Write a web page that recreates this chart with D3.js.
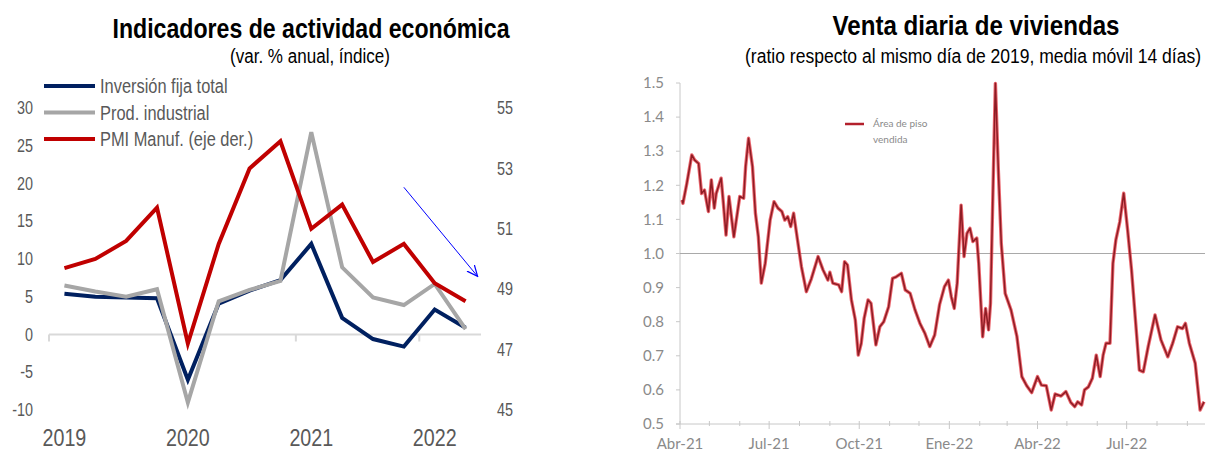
<!DOCTYPE html>
<html lang="es">
  <head>
    <meta charset="utf-8" />
    <script src="https://cdn.jsdelivr.net/npm/d3@7/dist/d3.min.js"></script>
    <title>Indicadores y venta de viviendas</title>
    <style>
      body { margin: 0; background: #fff; }
      .titulo { font-family: "Liberation Sans", Arial, sans-serif; font-weight: bold; font-size: 28px; fill: #000; }
      .subtitulo { font-family: "Liberation Sans", Arial, sans-serif; font-size: 20px; fill: #000; }
      .izq text { font-family: "Liberation Sans", Arial, sans-serif; fill: #595959; }
      .der text { font-family: Lato, "Open Sans", sans-serif; fill: #8a8a8a; }
    </style>
  </head>
  <body>
    <div id="container"></div>

    <script>
      // ---- panel izquierdo: datos trimestrales ----
      const trimestres = ["2019T1", "2019T2", "2019T3", "2019T4", "2020T1", "2020T2", "2020T3", "2020T4",
                          "2021T1", "2021T2", "2021T3", "2021T4", "2022T1", "2022T2"];
      const inversion = [5.4, 5.0, 4.9, 4.8, -6.0, 4.1, 5.8, 7.2, 12.0, 2.2, -0.6, -1.6, 3.3, 0.9];
      const prodIndustrial = [6.5, 5.7, 5.0, 6.0, -9.0, 4.4, 5.9, 7.1, 26.8, 8.9, 4.9, 3.9, 6.7, 0.7];
      const pmi = [49.7, 50.0, 50.6, 51.7, 47.2, 50.5, 53.0, 53.9, 51.0, 51.8, 49.9, 50.5, 49.2, 48.6];
      const ticksIzq = [-10, -5, 0, 5, 10, 15, 20, 25, 30];
      const ticksDer = [45, 47, 49, 51, 53, 55];
      const leyendaIzq = ["Inversión fija total", "Prod. industrial", "PMI Manuf. (eje der.)"];

      // ---- panel derecho: venta diaria (días desde 1-abr-2021) ----
      const dias = [2, 3, 7, 12, 15, 19, 22, 25, 29, 32, 35, 37, 42, 44, 47, 50, 55, 61, 65, 67, 70, 74, 77, 80,
        83, 87, 92, 96, 100, 104, 107, 110, 113, 116, 119, 124, 129, 134, 141, 146, 151, 153, 156, 162, 165,
        168, 171, 175, 179, 182, 185, 188, 192, 195, 200, 204, 208, 213, 217, 221, 226, 230, 235, 240, 245,
        250, 255, 260, 265, 270, 274, 277, 280, 283, 287, 290, 293, 296, 299, 303, 305, 309, 312, 315, 317,
        320, 322, 325, 328, 332, 338, 344, 349, 354, 359, 365, 369, 374, 379, 383, 389, 394, 399, 403, 406,
        410, 413, 417, 421, 425, 429, 432, 435, 439, 442, 445, 449, 453, 457, 461, 465, 469, 473, 478, 485,
        491, 498, 503, 508, 513, 516, 520, 526, 531, 535];
      const ventas = [1.157, 1.147, 1.206, 1.289, 1.274, 1.264, 1.176, 1.186, 1.123, 1.216, 1.133, 1.176,
        1.221, 1.157, 1.054, 1.167, 1.049, 1.167, 1.162, 1.255, 1.338, 1.255, 1.118, 1.049, 0.913, 0.971,
        1.098, 1.152, 1.133, 1.123, 1.098, 1.108, 1.079, 1.118, 1.059, 0.961, 0.888, 0.925, 0.991, 0.952,
        0.922, 0.945, 0.913, 0.908, 0.888, 0.976, 0.966, 0.864, 0.805, 0.702, 0.736, 0.810, 0.864, 0.854,
        0.732, 0.785, 0.800, 0.844, 0.927, 0.932, 0.942, 0.893, 0.883, 0.834, 0.795, 0.766, 0.727, 0.761,
        0.850, 0.903, 0.922, 0.873, 0.839, 0.913, 1.142, 0.991, 1.059, 1.074, 1.035, 1.045, 0.971, 0.756,
        0.839, 0.776, 0.854, 1.245, 1.499, 1.245, 1.030, 0.883, 0.834, 0.756, 0.639, 0.612, 0.592, 0.639,
        0.614, 0.612, 0.541, 0.588, 0.582, 0.595, 0.563, 0.551, 0.565, 0.556, 0.600, 0.609, 0.634, 0.702,
        0.639, 0.702, 0.737, 0.737, 0.971, 1.040, 1.093, 1.177, 1.069, 0.952, 0.805, 0.658, 0.653, 0.727,
        0.820, 0.747, 0.697, 0.737, 0.785, 0.780, 0.795, 0.737, 0.678, 0.541, 0.565];
      const ticksVentas = [0.5, 0.6, 0.7, 0.8, 0.9, 1.0, 1.1, 1.2, 1.3, 1.4, 1.5];
      const etiquetasMes = ["Abr-21", "Jul-21", "Oct-21", "Ene-22", "Abr-22", "Jul-22"];

      const width = 1208;
      const height = 452;
      const svg = d3.select("#container").append("svg").attr("width", width).attr("height", height);
      svg.append("rect").attr("width", width).attr("height", height).attr("fill", "#fff");

      // no hay Arial Narrow: se comprime la Liberation Sans
      function estrechar(sel, f) {
        sel.each(function () {
          this.setAttribute("textLength", this.getComputedTextLength() * f);
          this.setAttribute("lengthAdjust", "spacingAndGlyphs");
        });
      }
      function ancho(sel, w) {
        sel.attr("textLength", w).attr("lengthAdjust", "spacingAndGlyphs");
      }

      // =============== izquierda ===============
      const gl = svg.append("g").attr("class", "izq");
      const x = d3.scaleBand().domain(trimestres).range([49, 481]);
      const cx = (t) => x(t) + x.bandwidth() / 2;
      const yL = d3.scaleLinear().domain([-10, 30]).range([410, 108]);
      const yR = d3.scaleLinear().domain([45, 55]).range([410, 108]);

      svg.append("text").attr("class", "titulo").attr("x", 311).attr("y", 38).attr("text-anchor", "middle")
        .text("Indicadores de actividad económica").call(ancho, 397);
      svg.append("text").attr("class", "subtitulo").attr("x", 310).attr("y", 63).attr("text-anchor", "middle")
        .text("(var. % anual, índice)").call(ancho, 160);

      // linea del cero y marcas de año
      gl.append("line").attr("x1", 49).attr("x2", 481).attr("y1", yL(0)).attr("y2", yL(0))
        .attr("stroke", "#d9d9d9").attr("stroke-width", 2);
      const inicioAnio = trimestres.filter((t) => t.endsWith("T1"));
      gl.selectAll(".marca").data(inicioAnio).join("line")
        .attr("x1", (t) => x(t)).attr("x2", (t) => x(t))
        .attr("y1", yL(0)).attr("y2", yL(0) + 7)
        .attr("stroke", "#d9d9d9").attr("stroke-width", 2);

      gl.selectAll(".anio").data(inicioAnio).join("text")
        .attr("x", (t) => cx(t)).attr("y", 446).attr("text-anchor", "middle")
        .attr("font-size", 24).text((t) => t.slice(0, 4)).call(estrechar, 0.82);

      gl.selectAll(".tl").data(ticksIzq).join("text")
        .attr("x", 33).attr("y", (d) => yL(d)).attr("dy", "0.35em").attr("text-anchor", "end")
        .attr("font-size", 17.5).text((d) => d).call(estrechar, 0.82);
      gl.selectAll(".tr").data(ticksDer).join("text")
        .attr("x", 497).attr("y", (d) => yR(d)).attr("dy", "0.35em")
        .attr("font-size", 17.5).text((d) => d).call(estrechar, 0.82);

      const series = [
        { vals: inversion, esc: yL, color: "#002060" },
        { vals: prodIndustrial, esc: yL, color: "#a6a6a6" },
        { vals: pmi, esc: yR, color: "#c00000" },
      ];
      series.forEach((s) => {
        const linea = d3.line().x((d, i) => cx(trimestres[i])).y((d) => s.esc(d));
        gl.append("path").datum(s.vals).attr("d", linea).attr("fill", "none")
          .attr("stroke", s.color).attr("stroke-width", 4).attr("stroke-linejoin", "miter");
      });

      // flecha azul
      svg.append("defs").append("marker").attr("id", "punta").attr("viewBox", "0 0 10 10")
        .attr("refX", 9).attr("refY", 5).attr("markerWidth", 12).attr("markerHeight", 12)
        .attr("orient", "auto").attr("markerUnits", "userSpaceOnUse")
        .append("path").attr("d", "M0,1 L9,5 L0,9").attr("fill", "none").attr("stroke", "#0000ff").attr("stroke-width", 1);
      gl.append("line")
        .attr("x1", cx("2021T4")).attr("y1", yL(19.5))
        .attr("x2", cx("2022T2") + 12).attr("y2", yL(7.7))
        .attr("stroke", "#0000ff").attr("stroke-width", 1).attr("marker-end", "url(#punta)");

      // leyenda
      const ley = gl.selectAll(".ley").data(series).join("g")
        .attr("transform", (d, i) => `translate(44,${86 + i * 26.5})`);
      ley.append("line").attr("x1", 0).attr("x2", 51).attr("stroke", (d) => d.color).attr("stroke-width", 4);
      ley.append("text").attr("x", 56).attr("dy", "0.35em").attr("font-size", 20)
        .text((d, i) => leyendaIzq[i]).call(estrechar, 0.82);

      // =============== derecha ===============
      const gr = svg.append("g").attr("class", "der");
      const inicio = new Date(2021, 3, 1);
      const fechas = dias.map((d) => d3.timeDay.offset(inicio, d));
      const xt = d3.scaleTime().domain([inicio, d3.timeDay.offset(inicio, 536)]).range([680, 1205]);
      const yv = d3.scaleLinear().domain([0.5, 1.5]).range([424, 83]);

      svg.append("text").attr("class", "titulo").attr("x", 976).attr("y", 35).attr("text-anchor", "middle")
        .text("Venta diaria de viviendas").call(ancho, 287);
      svg.append("text").attr("class", "subtitulo").attr("x", 973).attr("y", 63).attr("text-anchor", "middle")
        .attr("font-size", 18)
        .text("(ratio respecto al mismo día de 2019, media móvil 14 días)").call(ancho, 456);

      // ejes
      gr.append("line").attr("x1", 680).attr("x2", 680).attr("y1", yv(1.5)).attr("y2", yv(0.5))
        .attr("stroke", "#c8c8c8");
      gr.append("line").attr("x1", 676).attr("x2", 1205).attr("y1", yv(0.5)).attr("y2", yv(0.5))
        .attr("stroke", "#c8c8c8");
      gr.append("line").attr("x1", 680).attr("x2", 1205).attr("y1", yv(1)).attr("y2", yv(1))
        .attr("stroke", "#a9a9a9");
      gr.selectAll(".ty").data(ticksVentas).join("line")
        .attr("x1", 676).attr("x2", 680).attr("y1", (d) => yv(d)).attr("y2", (d) => yv(d)).attr("stroke", "#c8c8c8");
      gr.selectAll(".ly").data(ticksVentas).join("text")
        .attr("x", 664).attr("y", (d) => yv(d)).attr("dy", "0.35em").attr("text-anchor", "end")
        .attr("font-size", 15).text((d) => d.toFixed(1));
      const meses = d3.timeMonth.range(inicio, d3.timeDay.offset(inicio, 536));
      gr.selectAll(".tx").data(meses).join("line")
        .attr("x1", (d) => xt(d)).attr("x2", (d) => xt(d))
        .attr("y1", yv(0.5) - 3).attr("y2", (d, i) => yv(0.5) + (i % 3 === 0 ? 5 : 2))
        .attr("stroke", "#c8c8c8");
      const trimMeses = meses.filter((d, i) => i % 3 === 0);
      gr.selectAll(".lx").data(trimMeses).join("text")
        .attr("x", (d) => xt(d)).attr("y", 449).attr("text-anchor", "middle")
        .attr("font-size", 15).text((d, i) => etiquetasMes[i]);

      const lineaV = d3.line().x((d, i) => xt(fechas[i])).y((d) => yv(d)).curve(d3.curveLinear);
      gr.append("path").datum(ventas).attr("d", lineaV).attr("fill", "none")
        .attr("stroke", "#e4343f").attr("stroke-width", 3.4).attr("stroke-opacity", 0.75).attr("stroke-linejoin", "round");
      gr.append("path").datum(ventas).attr("d", lineaV).attr("fill", "none")
        .attr("stroke", "#8e1c24").attr("stroke-width", 1.5).attr("stroke-linejoin", "round");

      // leyenda derecha
      gr.append("line").attr("x1", 845).attr("x2", 864).attr("y1", 124).attr("y2", 124)
        .attr("stroke", "#b3202c").attr("stroke-width", 2.5);
      gr.append("text").attr("x", 873).attr("y", 124).attr("dy", "0.3em").attr("font-size", 10).attr("fill", "#888")
        .text("Área de piso");
      gr.append("text").attr("x", 873).attr("y", 140).attr("dy", "0.3em").attr("font-size", 10).attr("fill", "#888")
        .text("vendida");
    </script>
  </body>
</html>
